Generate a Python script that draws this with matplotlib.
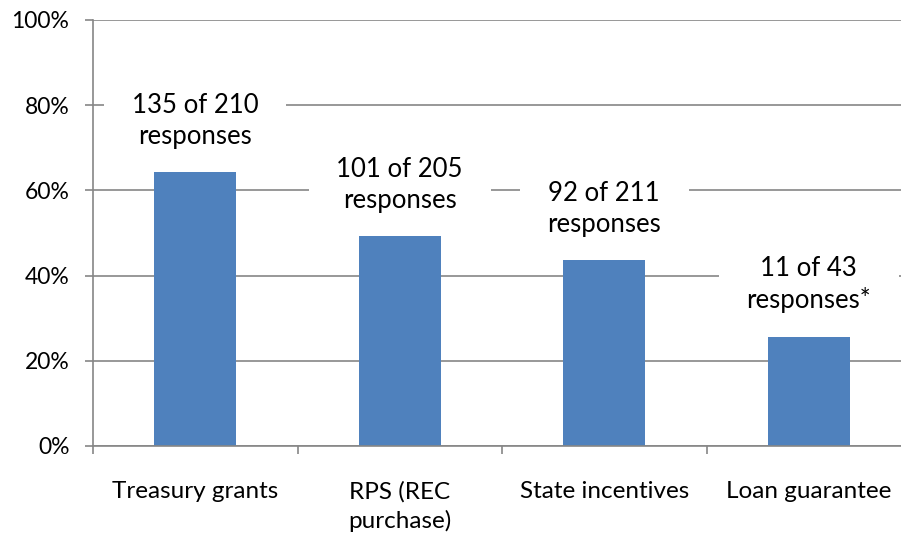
import matplotlib
matplotlib.use('Agg')
import matplotlib.pyplot as plt
import numpy as np

categories = ['Treasury grants', 'RPS (REC\npurchase)', 'State incentives', 'Loan guarantee']
shares = [135 / 210 * 100, 101 / 205 * 100, 92 / 211 * 100, 11 / 43 * 100]
labels = ['135 of 210\nresponses', '101 of 205\nresponses', '92 of 211\nresponses', '11 of 43\nresponses*']
yticks = [0, 20, 40, 60, 80, 100]

plt.rcParams['font.family'] = ['Lato', 'DejaVu Sans']
grey = '#868686'

fig = plt.figure(figsize=(9.01, 5.36), dpi=100)
ax = fig.add_axes([93 / 901, 90 / 536, 818 / 901, 426 / 536])

x = np.arange(len(categories))
ax.bar(x, shares, width=0.4, color='#4F81BD', zorder=2)

# labels sit on white boxes that break the gridlines, under the bars
for xi, v, lab in zip(x, shares, labels):
    ax.annotate(lab, (xi, v), xytext=(0, 17), textcoords='offset points',
                ha='center', va='bottom', fontsize=18.5, linespacing=1.3, zorder=1.5,
                bbox=dict(facecolor='white', edgecolor='none', pad=20))

ax.set_xlim(-0.5, len(categories) - 0.5)
ax.set_ylim(0, 100)
ax.set_yticks(yticks)
ax.set_yticklabels([f'{t}%' for t in yticks], fontsize=16.5)
ax.yaxis.grid(True, color=grey, linewidth=1.2)
ax.set_axisbelow(True)

ax.set_xticks(x)
ax.set_xticklabels(categories, fontsize=17.5, linespacing=1.45)
ax.set_xticks(np.arange(len(categories) + 1) - 0.5, minor=True)
ax.tick_params(axis='x', which='major', length=0, pad=25)
ax.tick_params(axis='x', which='minor', length=6, color=grey, width=1.2)
ax.tick_params(axis='y', length=6, color=grey, width=1.2, pad=11)

for s in ['top', 'right']:
    ax.spines[s].set_visible(False)
for s in ['left', 'bottom']:
    ax.spines[s].set_color(grey)
    ax.spines[s].set_linewidth(1.2)

fig.savefig('out.png', dpi=100)
